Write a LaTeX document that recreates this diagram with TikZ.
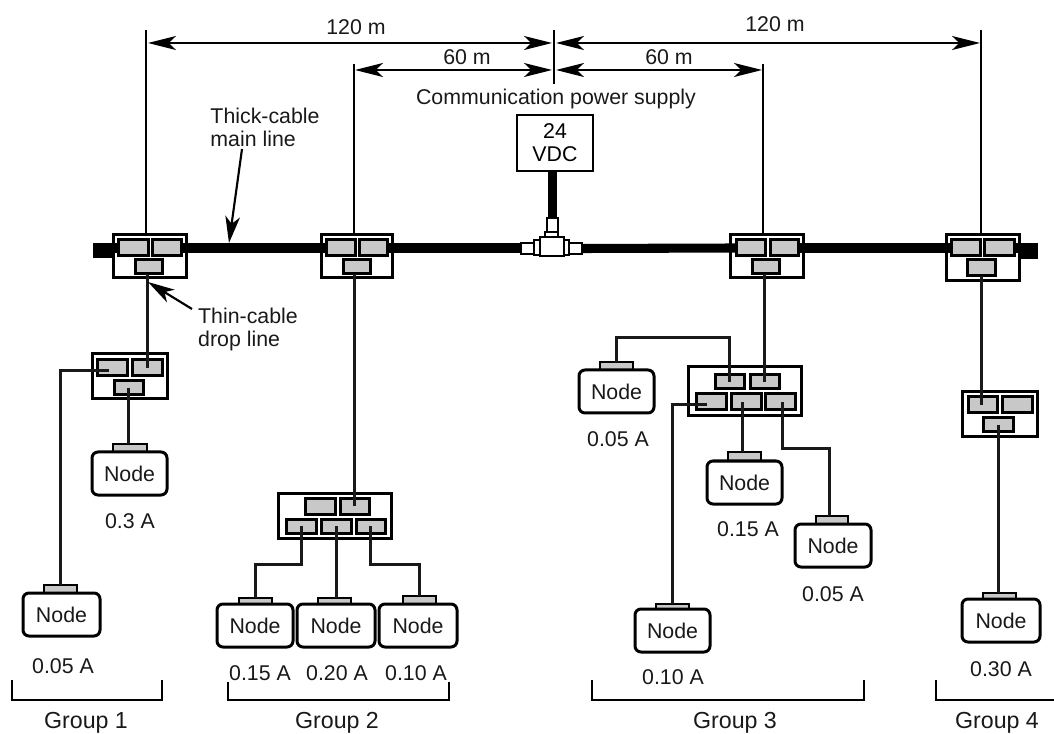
\documentclass[tikz,border=0pt]{standalone}
\usepackage{fontspec}
\setmainfont{Liberation Sans}
\usetikzlibrary{arrows.meta,calc}
\definecolor{portgray}{HTML}{C8C8C8}
\tikzset{
  boxbase/.style={draw=black,inner sep=0pt,outer sep=0pt,anchor=center},
  tapbox/.style={boxbase,line width=2.25pt,fill=white},
  portbox/.style={boxbase,line width=2.25pt,fill=portgray},
  nodebody/.style={boxbase,line width=2.25pt,fill=white,rounded corners=4.5pt,font=\lblfont,text=black!90},
  nodeconn/.style={boxbase,line width=1.8pt,fill=portgray},
  fitting/.style={boxbase,line width=1.6pt,fill=white},
  supply/.style={boxbase,line width=1.8pt,fill=white,font=\lblfont,align=center},
  lbl/.style={inner sep=0pt,outer sep=0pt,anchor=base,font=\lblfont,text=black!90},
  grouplbl/.style={lbl,font=\grpfont},
  lblblock/.style={inner sep=0pt,outer sep=0pt,font=\lblfont,text=black!90,align=left},
  cable/.style={line width=2.25pt,draw=black!90},
  trunk/.style={line width=6.8pt,draw=black},
  stub/.style={line width=11.5pt,draw=black},
  ext/.style={line width=1.5pt,draw=black},
  dimline/.style={line width=1.5pt,draw=black,{Stealth[length=21pt,width=10.5pt,inset=5.5pt]}-{Stealth[length=21pt,width=10.5pt,inset=5.5pt]}},
  callout/.style={line width=1.6pt,draw=black,-{Stealth[length=20pt,width=11pt,inset=5.5pt]}},
  bracket/.style={line width=1.2pt,draw=black},
}
\newcommand\lblfont{\fontsize{16}{17.25}\selectfont}
\newcommand\grpfont{\fontsize{17.4}{19}\selectfont}
% \bx{style}{name}{x1}{y1}{x2}{y2}{text}
\newcommand\bx[7]{\node[#1,minimum width={(#5-#3)*0.75pt},minimum height={(#6-#4)*0.75pt}] (#2) at ({(#3+#5)/2},{(#4+#6)/2}) {#7};}
% \nd{name}{x1}{ytop}{x2}{conn x1}{conn x2}{conn top}
\newcommand\nd[7]{\bx{nodeconn}{#1c}{#5}{#7}{#6}{#3}{}\bx{nodebody}{#1}{#2}{#3}{#4}{#3+43}{\raisebox{-1pt}{Node}}}
\begin{document}
\begin{tikzpicture}[x=0.75pt,y=-0.75pt]
\useasboundingbox (0,0) rectangle (1054,734);
% tap boxes
\bx{tapbox}{t1}{113}{235}{186}{278}{}
\bx{tapbox}{t2}{321}{235}{392}{278}{}
\bx{tapbox}{t3}{730}{235}{803}{278}{}
\bx{tapbox}{t4}{946}{235}{1019}{281}{}
\bx{tapbox}{g1}{92}{354}{167}{399}{}
\bx{tapbox}{g4}{962}{392}{1037}{437}{}
\bx{tapbox}{g2}{278}{493}{391}{538}{}
\bx{tapbox}{g3}{688}{367}{801}{416}{}
% free ends and dimension points
\coordinate (stubL) at (93,250.5);
\coordinate (stubR) at (1038,251);
\coordinate (dA) at (146,30);
\coordinate (dB) at (353.5,64);
\coordinate (dC) at (554,30);
\coordinate (dCe) at (554,84);
\coordinate (dD) at (763,64);
\coordinate (dE) at (981,30);
\coordinate (a1l) at (148,43);
\coordinate (a1r) at (552,43);
\coordinate (a2l) at (355,70);
\coordinate (a2r) at (552,70);
\coordinate (a3l) at (556,43);
\coordinate (a3r) at (980,43);
\coordinate (a4l) at (556,70);
\coordinate (a4r) at (762,70);
\coordinate (thickS) at (242,149);
\coordinate (thickT) at (229,243);
\coordinate (thinS) at (192,309);
\coordinate (thinT) at (148,282);
% ports
\bx{portbox}{t1l}{118}{240}{148}{256}{}
\bx{portbox}{t1r}{152}{240}{181}{256}{}
\bx{portbox}{t1c}{135}{260}{162}{274}{}
\bx{portbox}{t2l}{326}{240}{355}{256}{}
\bx{portbox}{t2r}{359}{240}{387}{256}{}
\bx{portbox}{t2c}{343}{260}{370}{274}{}
\bx{portbox}{t3l}{736}{240}{765}{256}{}
\bx{portbox}{t3r}{770}{240}{798}{256}{}
\bx{portbox}{t3c}{752}{260}{779}{274}{}
\bx{portbox}{t4l}{951}{240}{980}{256}{}
\bx{portbox}{t4r}{984}{240}{1014}{256}{}
\bx{portbox}{t4c}{967}{260}{995}{276}{}
\bx{portbox}{g1l}{97}{360}{127}{376}{}
\bx{portbox}{g1r}{132}{360}{162}{376}{}
\bx{portbox}{g1c}{114}{381}{143}{395}{}
\bx{portbox}{g4l}{968}{397}{997}{413}{}
\bx{portbox}{g4r}{1002}{397}{1032}{413}{}
\bx{portbox}{g4c}{983}{418}{1013}{432}{}
\bx{portbox}{g2tl}{305}{498}{335}{514}{}
\bx{portbox}{g2tr}{340}{498}{369}{514}{}
\bx{portbox}{g2bl}{286}{519}{316}{533}{}
\bx{portbox}{g2bm}{321}{519}{351}{533}{}
\bx{portbox}{g2br}{356}{519}{385}{533}{}
\bx{portbox}{g3tl}{715}{375}{744}{389}{}
\bx{portbox}{g3tr}{750}{375}{779}{389}{}
\bx{portbox}{g3bl}{696}{394}{726}{410}{}
\bx{portbox}{g3bm}{731}{394}{761}{410}{}
\bx{portbox}{g3br}{765}{394}{795}{410}{}
% power supply and T-fitting
\bx{supply}{vdc}{517}{115}{593}{171}{24\\VDC}
\bx{fitting}{jtn}{547}{218}{558}{232}{}
\bx{fitting}{jl}{521}{243}{535}{254}{}
\bx{fitting}{jr}{569}{243}{582}{254}{}
\bx{fitting}{jtc}{545}{232}{558}{239}{}
\bx{fitting}{jlc}{534}{240}{541}{255}{}
\bx{fitting}{jrc}{562}{240}{569}{255}{}
\bx{fitting}{jc}{540}{237}{564}{256}{}
% devices
\nd{na}{92}{452}{167}{113}{147}{444}
\nd{nb}{23}{593}{100}{44}{77}{585}
\nd{n21}{217}{604}{293}{239}{272}{598}
\nd{n22}{297}{604}{375}{318}{351}{598}
\nd{n23}{379}{604}{457}{403}{436}{596}
\nd{n31}{579}{370}{654}{600}{633}{362}
\nd{n32}{707}{461}{782}{728}{761}{452}
\nd{n33}{795}{524}{871}{816}{848}{516}
\nd{n34}{635}{609}{710}{656}{689}{604}
\nd{n4}{962}{599}{1040}{983}{1016}{593}
% thick cable
\draw[stub] (stubL) -- (stubL -| t1.west);
\draw[stub] (stubR) -- (stubR -| t4.east);
\draw[trunk] (t1r.east) -- (t2l.west);
\draw[trunk] (t2r.east) -- (t2r.east -| jl.west);
\draw[trunk] (jr.east) -- (t3l.west);
\draw[trunk] (t3r.east) -- (t4l.west);
\draw[trunk] (t4r.east) -- (t4r.east -| t4.east);
\draw[trunk] (t1l.west) -- (t1l.west -| t1.west);
\draw[trunk] (jtn.north) -- (jtn.north |- vdc.south);
% thin cables
\draw[cable] (g1r.center) -- (g1r.center |- t1c.south);
\draw[cable] ([yshift=-2pt,xshift=-2pt]g1l.center) -| (nbc.north);
\draw[cable] (g1c.center) -- (g1c.center |- nac.north);
\draw[cable] (g2tr.center) -- (g2tr.center |- t2c.south);
\draw[cable] (g2bl.center) -- ++(0,38) -| (n21c.north);
\draw[cable] (g2bm.center) -- (g2bm.center |- n22c.north);
\draw[cable] (g2br.center) -- ++(0,38) -| (n23c.north);
\draw[cable] (g3tr.center) -- (g3tr.center |- t3c.south);
\draw[cable] (g3tl.center) -- ++(0,-44) -| (n31c.north);
\draw[cable] ([yshift=-2pt,xshift=-3pt]g3bl.center) -| (n34c.north);
\draw[cable] ([xshift=-3pt]g3bm.center) coordinate (g3m) -- (g3m |- n32c.north);
\draw[cable] ([xshift=1.5pt]g3br.center) -- ++(0,47) -| ([xshift=-2pt]n33c.north);
\draw[cable] (t4c.south) -- (t4c.south |- g4l.center);
\draw[cable] (g4c.center) -- (g4c.center |- n4c.north);
% dimensions
\draw[ext] (dA) -- (dA |- t1.north);
\draw[ext] (dB) -- (dB |- t2.north);
\draw[ext] (dC) -- (dCe);
\draw[ext] (dD) -- (dD |- t3.north);
\draw[ext] (dE) -- (dE |- t4.north);
\draw[dimline] (a1l) -- (a1r);
\draw[dimline] (a2l) -- (a2r);
\draw[dimline] (a3l) -- (a3r);
\draw[dimline] (a4l) -- (a4r);
\draw[callout] (thickS) -- (thickT);
\draw[callout] (thinS) -- (thinT);
% group brackets
\coordinate (b1a) at (12,680);\coordinate (b1b) at (162,680);\coordinate (b1y) at (0,700);
\coordinate (b2a) at (228,682);\coordinate (b2b) at (449,682);
\coordinate (b3a) at (592,680);\coordinate (b3b) at (864,680);
\coordinate (b4a) at (936,680);\coordinate (b4b) at (1054,700);
\draw[bracket] (b1a) -- (b1a |- b1y) -- (b1b |- b1y) -- (b1b);
\draw[bracket] (b2a) -- (b2a |- b1y) -- (b2b |- b1y) -- (b2b);
\draw[bracket] (b3a) -- (b3a |- b1y) -- (b3b |- b1y) -- (b3b);
\draw[bracket] (b4a) |- (b4b);
% labels
\node[lbl] (l120a) at (356,35) {120 m};
\node[lbl] (l60a) at (467,65) {60 m};
\node[lbl] (l120b) at (775,32) {120 m};
\node[lbl] (l60b) at (669,65) {60 m};
\node[lbl] (lcomm) at (556,105) {Communication power supply};
\node[lblblock] (lthick) at (265,127) {Thick-cable\\main line};
\node[lblblock] (lthin) at (248,329) {Thin-cable\\drop line};
\node[lbl] (i1) at (63,673) {0.05 A};
\node[lbl] (i2) at (130,528) {0.3 A};
\node[lbl] (i3) at (260,680) {0.15 A};
\node[lbl] (i4) at (337,680) {0.20 A};
\node[lbl] (i5) at (416,680) {0.10 A};
\node[lbl] (i6) at (618,446) {0.05 A};
\node[lbl] (i7) at (748,536) {0.15 A};
\node[lbl] (i8) at (833,601) {0.05 A};
\node[lbl] (i9) at (673,684) {0.10 A};
\node[lbl] (i10) at (1001,676) {0.30 A};
\node[grouplbl] (g1t) at (86,728) {Group 1};
\node[grouplbl] (g2t) at (337,728) {Group 2};
\node[grouplbl] (g3t) at (735,728) {Group 3};
\node[grouplbl] (g4t) at (997,728) {Group 4};
\end{tikzpicture}
\end{document}
